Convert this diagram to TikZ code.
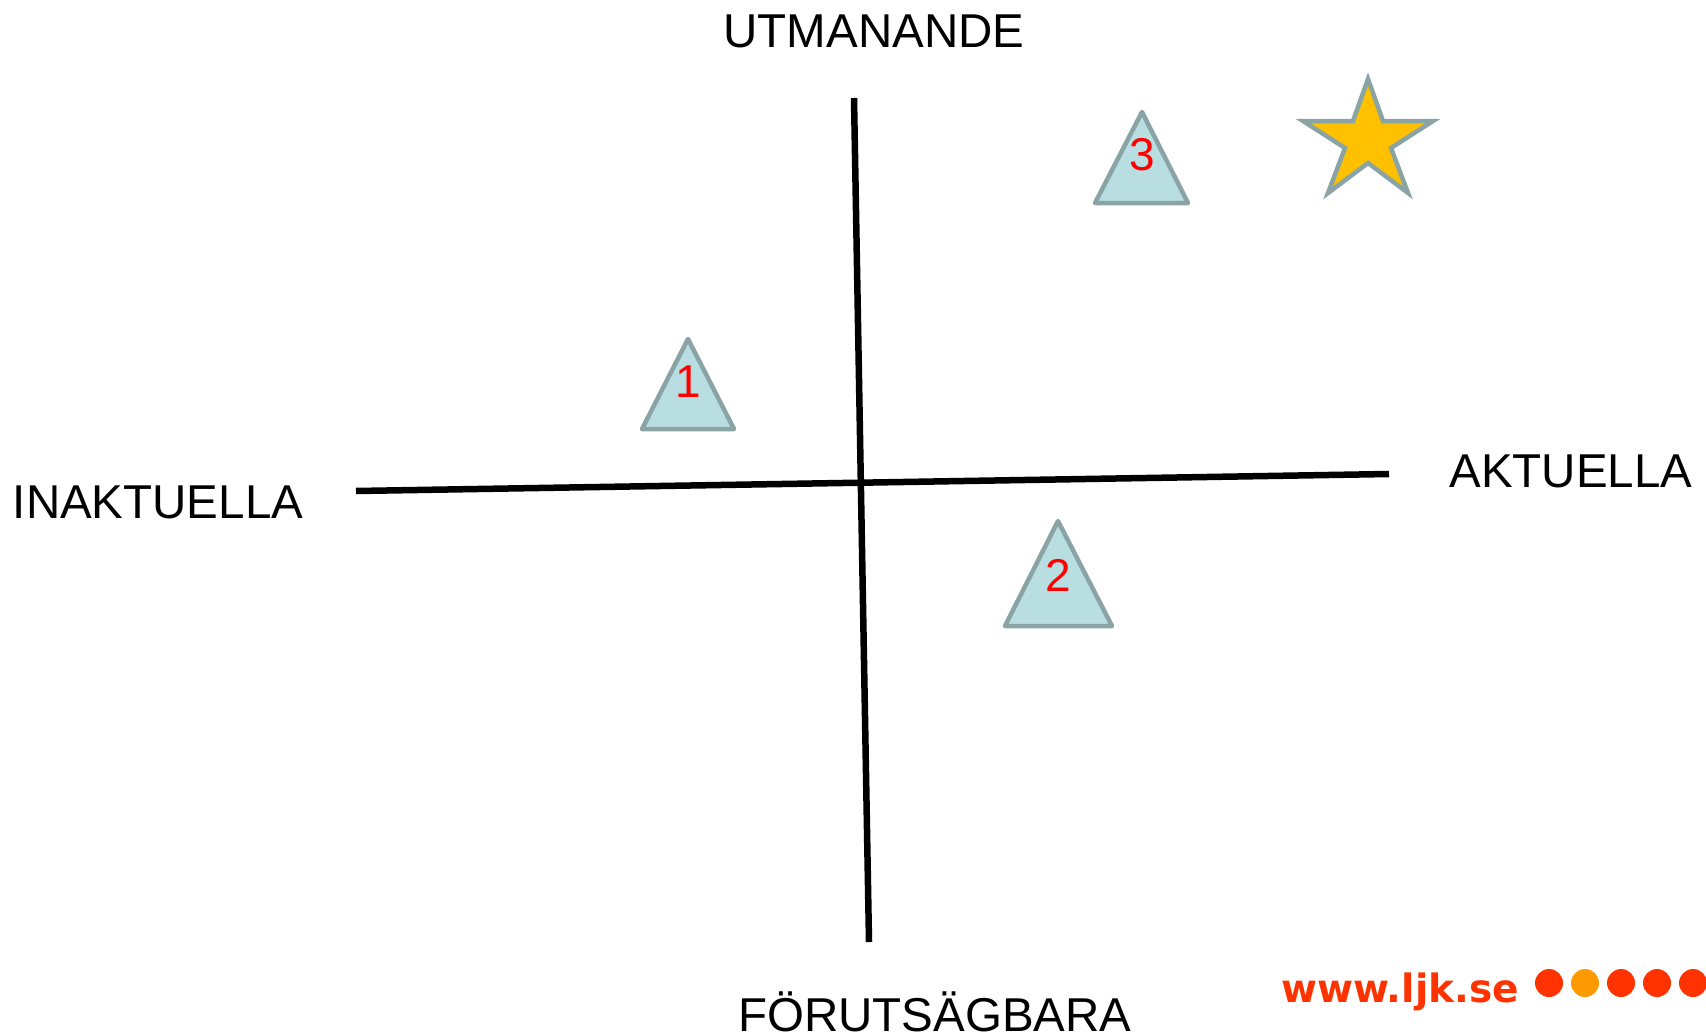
\documentclass[tikz,border=0pt]{standalone}
\usepackage{fontspec}
\setmainfont{Liberation Sans}
\newfontfamily\logofont{DejaVu Sans}
\definecolor{tfill}{RGB}{185,222,225}
\definecolor{tedge}{RGB}{138,164,166}
\definecolor{sfill}{RGB}{255,192,0}
\definecolor{lred}{RGB}{255,51,0}
\definecolor{lorange}{RGB}{255,153,0}
\begin{document}
\begin{tikzpicture}[x=1pt,y=-1pt,
  axis/.style={line width=6.5pt,black},
  lbl/.style={font=\fontsize{47.5}{50}\selectfont,anchor=base,inner sep=0pt},
  num/.style={font=\fontsize{46}{50}\selectfont,anchor=base,inner sep=0pt,text=red},
  tri/.style={fill=tfill,draw=tedge,line width=4.5pt,line join=round},
  dot/.style={circle,inner sep=0pt,minimum size=28pt,fill=#1}]
\useasboundingbox (0,0) rectangle (1706,1034);
% axes
\coordinate (vt) at (854,98);
\coordinate (vb) at (869,942);
\coordinate (hl) at (356,491);
\coordinate (hr) at (1389,474);
\draw[axis] (vt) -- (vb);
\draw[axis] (hl) -- (hr);
% labels
\node[lbl] (top) at (874,47) {UTMANANDE};
\node[lbl] (bot) at (935,1031) {FÖRUTSÄGBARA};
\node[lbl] (left) at (158,518) {INAKTUELLA};
\node[lbl] (right) at (1571,487) {AKTUELLA};
% triangles
\draw[tri] (688,339) -- (734,429) -- (642,429) -- cycle;
\node[num] (n1) at (688,397) {1};
\draw[tri] (1058,521) -- (1112,626) -- (1005,626) -- cycle;
\node[num] (n2) at (1058,591) {2};
\draw[tri] (1142,112) -- (1188,203) -- (1095,203) -- cycle;
\node[num] (n3) at (1142,170) {3};
% star
\draw[fill=sfill,draw=tedge,line width=4.5pt,line join=miter]
  (1368,79) -- (1383,121) -- (1433,121) -- (1391,148) -- (1408,193)
  -- (1368,163) -- (1328,193) -- (1345,148) -- (1303,121) -- (1353,121) -- cycle;
% logo
\node[font=\logofont\bfseries\fontsize{39}{42}\selectfont,text=lred,anchor=base,inner sep=0pt] (logo) at (1400,1002) {www.ljk.se};
\node[dot=lred] (d1) at (1549,983) {};
\node[dot=lorange] (d2) at (1585,983) {};
\node[dot=lred] (d3) at (1621,983) {};
\node[dot=lred] (d4) at (1657,983) {};
\node[dot=lred] (d5) at (1693,983) {};
\end{tikzpicture}
\end{document}
